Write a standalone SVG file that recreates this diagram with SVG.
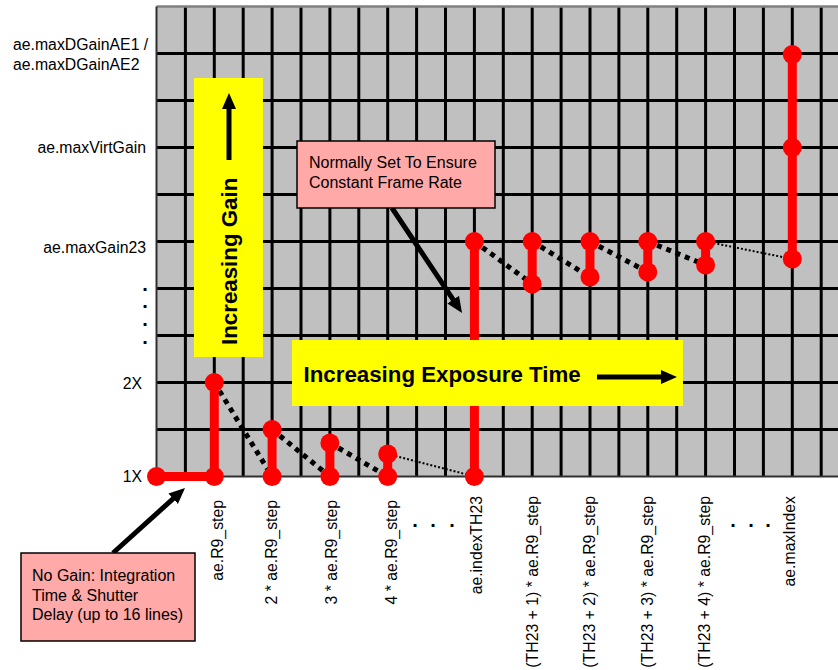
<svg xmlns="http://www.w3.org/2000/svg" width="838" height="670" viewBox="0 0 838 670">
<style>
.lbl{font-family:"Liberation Sans",Arial,sans-serif;font-size:15.8px;fill:#000}
.call{font-family:"Liberation Sans",Arial,sans-serif;font-size:16px;fill:#000}
.big{font-family:"Liberation Sans",Arial,sans-serif;font-size:22.3px;font-weight:bold;fill:#000}
.dot{font-family:"Liberation Sans",Arial,sans-serif;font-size:20px;font-weight:bold;fill:#000}
.grid{stroke:#000;stroke-width:3;fill:none}
.red{stroke:#FF0000;stroke-width:9;fill:none}
.rd{fill:#FF0000}
.thick{stroke:#000;stroke-width:5;stroke-dasharray:5 5;fill:none}
.thin{stroke:#000;stroke-width:2;stroke-dasharray:2 2;fill:none}
.arr{stroke:#000;stroke-width:5;fill:none;marker-end:url(#ah)}
.pink{fill:#FFA9A9;stroke:#000;stroke-width:1.5}
.yel{fill:#FFFF00}
</style>
<defs>
<marker id="ah" markerUnits="userSpaceOnUse" markerWidth="16" markerHeight="16" viewBox="0 0 16 16" refX="6" refY="8" orient="auto">
<path d="M0,1 L16,8 L0,15 z" fill="#000"/>
</marker>
</defs>
<rect width="838" height="670" fill="#FFFFFF"/>
<g id="grid">
<rect x="156.5" y="6.5" width="690" height="470" fill="#C0C0C0"/>
<path class="grid" d="M185.4,6.5V476.5M214.3,6.5V476.5M243.2,6.5V476.5M272.1,6.5V476.5M301,6.5V476.5M329.9,6.5V476.5M358.8,6.5V476.5M387.7,6.5V476.5M416.6,6.5V476.5M445.5,6.5V476.5M474.4,6.5V476.5M503.3,6.5V476.5M532.2,6.5V476.5M561.1,6.5V476.5M590,6.5V476.5M618.9,6.5V476.5M647.8,6.5V476.5M676.7,6.5V476.5M705.6,6.5V476.5M734.5,6.5V476.5M763.4,6.5V476.5M792.3,6.5V476.5M821.2,6.5V476.5"/>
<path class="grid" d="M156.5,53.5H838M156.5,100.5H838M156.5,147.5H838M156.5,194.5H838M156.5,241.5H838M156.5,288.5H838M156.5,335.5H838M156.5,382.5H838M156.5,429.5H838"/>
<path d="M156.5,6.5H838" stroke="#808080" stroke-width="2.5" fill="none"/>
<path d="M156.5,6.5V476.5H838" stroke="#303030" stroke-width="2" fill="none"/>
</g>
<g id="connectors">
<path class="thick" d="M214.3,382.5L272.1,476.5M272.1,429.5L329.9,476.5M329.9,443L387.7,476.5"/>
<path class="thin" d="M387.7,454L474.4,476.5"/>
<path class="thick" d="M474.4,241.5L532.2,284M532.2,241.5L590,277M590,241.5L647.8,272M647.8,241.5L705.6,265"/>
<path class="thin" d="M705.6,241.5L792.3,259"/>
<path class="arr" d="M392,208L456.5,304.7"/>
<path class="arr" d="M113,553L177.6,494.7"/>
</g>
<g id="series">
<path class="red" d="M156.5,476.5H214.3V382.5M272.1,476.5V429.5M329.9,476.5V443M387.7,476.5V454M474.4,476.5V241.5M532.2,284V241.5M590,277V241.5M647.8,272V241.5M705.6,265V241.5M792.3,259V54.5"/>
<g class="rd">
<circle cx="156.5" cy="476.5" r="9.5"/><circle cx="214.3" cy="476.5" r="9.5"/><circle cx="214.3" cy="382.5" r="9.5"/>
<circle cx="272.1" cy="476.5" r="9.5"/><circle cx="272.1" cy="429.5" r="9.5"/>
<circle cx="329.9" cy="476.5" r="9.5"/><circle cx="329.9" cy="443" r="9.5"/>
<circle cx="387.7" cy="476.5" r="9.5"/><circle cx="387.7" cy="454" r="9.5"/>
<circle cx="474.4" cy="476.5" r="9.5"/><circle cx="474.4" cy="241.5" r="9.5"/>
<circle cx="532.2" cy="284" r="9.5"/><circle cx="532.2" cy="241.5" r="9.5"/>
<circle cx="590" cy="277" r="9.5"/><circle cx="590" cy="241.5" r="9.5"/>
<circle cx="647.8" cy="272" r="9.5"/><circle cx="647.8" cy="241.5" r="9.5"/>
<circle cx="705.6" cy="265" r="9.5"/><circle cx="705.6" cy="241.5" r="9.5"/>
<circle cx="792.3" cy="259" r="9.5"/><circle cx="792.3" cy="147.5" r="9.5"/><circle cx="792.3" cy="54.5" r="9.5"/>
</g>
</g>
<g id="gain-box">
<rect class="yel" x="194" y="78" width="69" height="279"/>
<text class="big" transform="translate(237,345) rotate(-90)">Increasing Gain</text>
<path class="arr" d="M229,160V103"/>
</g>
<g id="exposure-box">
<rect class="yel" x="292" y="340" width="391" height="66"/>
<text class="big" x="303.5" y="382">Increasing Exposure Time</text>
<path class="arr" d="M597,377H667"/>
</g>
<g id="frame-rate-note">
<rect class="pink" x="297" y="141" width="198" height="67"/>
<text class="call" x="309" y="168">Normally Set To Ensure</text>
<text class="call" x="309" y="188">Constant Frame Rate</text>
</g>
<g id="no-gain-note">
<rect class="pink" x="21" y="553" width="174" height="88"/>
<text class="call" x="32" y="581">No Gain: Integration</text>
<text class="call" x="32" y="601">Time &amp; Shutter</text>
<text class="call" x="32" y="620">Delay (up to 16 lines)</text>
</g>
<g id="y-labels">
<text class="lbl" x="13" y="50">ae.maxDGainAE1 /</text>
<text class="lbl" x="13" y="70">ae.maxDGainAE2</text>
<text class="lbl" x="146" y="153" text-anchor="end">ae.maxVirtGain</text>
<text class="lbl" x="146" y="253" text-anchor="end">ae.maxGain23</text>
<text class="dot" x="145 145 145 145" y="291 308 326 344" text-anchor="middle">....</text>
<text class="lbl" x="142" y="389" text-anchor="end">2X</text>
<text class="lbl" x="142" y="482" text-anchor="end">1X</text>
</g>
<g id="x-labels">
<text class="lbl" transform="translate(223,500) rotate(-90)" text-anchor="end">ae.R9_step</text>
<text class="lbl" transform="translate(277,500) rotate(-90)" text-anchor="end">2 * ae.R9_step</text>
<text class="lbl" transform="translate(337,500) rotate(-90)" text-anchor="end">3 * ae.R9_step</text>
<text class="lbl" transform="translate(397,500) rotate(-90)" text-anchor="end">4 * ae.R9_step</text>
<text class="dot" x="415 433 452" y="527" text-anchor="middle">...</text>
<text class="lbl" transform="translate(482,496) rotate(-90)" text-anchor="end">ae.indexTH23</text>
<text class="lbl" transform="translate(538,496) rotate(-90)" text-anchor="end">(TH23 + 1) * ae.R9_step</text>
<text class="lbl" transform="translate(595,496) rotate(-90)" text-anchor="end">(TH23 + 2) * ae.R9_step</text>
<text class="lbl" transform="translate(653,496) rotate(-90)" text-anchor="end">(TH23 + 3) * ae.R9_step</text>
<text class="lbl" transform="translate(710,496) rotate(-90)" text-anchor="end">(TH23 + 4) * ae.R9_step</text>
<text class="dot" x="733 751 768" y="527" text-anchor="middle">...</text>
<text class="lbl" transform="translate(795,496) rotate(-90)" text-anchor="end">ae.maxIndex</text>
</g>
</svg>
